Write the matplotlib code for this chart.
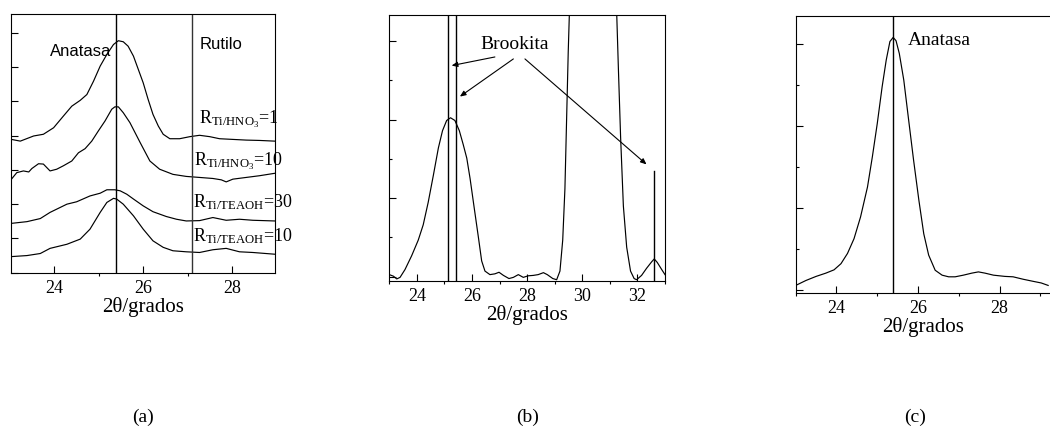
import matplotlib
matplotlib.use("Agg")
import matplotlib.pyplot as plt
from matplotlib.ticker import MultipleLocator, NullFormatter

plt.rcParams['font.family'] = ['Liberation Serif', 'DejaVu Serif']
plt.rcParams['mathtext.fontset'] = 'custom'
plt.rcParams['mathtext.rm'] = 'Liberation Serif'
plt.rcParams['mathtext.it'] = 'Liberation Serif:italic'
plt.rcParams['mathtext.bf'] = 'Liberation Serif:bold'

# ---------------- (a) four samples, offset patterns ----------------
a_hno3_1_x = [23.03, 23.23, 23.53, 23.75, 23.98, 24.20, 24.39, 24.58, 24.73, 24.88,
              25.03, 25.18, 25.33, 25.44, 25.55, 25.66, 25.78, 25.89, 26.00, 26.11,
              26.22, 26.34, 26.45, 26.60, 26.82, 27.05, 27.27, 27.50, 27.72, 28.02,
              28.32, 28.62, 28.96]
a_hno3_1_y = [3.89, 3.84, 3.99, 4.04, 4.23, 4.57, 4.86, 5.03, 5.20, 5.59,
              6.03, 6.37, 6.66, 6.77, 6.74, 6.61, 6.32, 5.93, 5.54, 5.06,
              4.62, 4.28, 4.04, 3.91, 3.91, 3.97, 4.01, 3.97, 3.91, 3.89,
              3.87, 3.86, 3.84]

a_hno3_10_x = [23.03, 23.15, 23.30, 23.42, 23.49, 23.64, 23.75, 23.90, 24.05, 24.20,
               24.39, 24.54, 24.69, 24.84, 24.99, 25.14, 25.29, 25.36, 25.44, 25.55,
               25.70, 25.93, 26.15, 26.37, 26.67, 26.97, 27.27, 27.57, 27.76, 27.87,
               28.02, 28.32, 28.62, 28.96]
a_hno3_10_y = [2.73, 2.92, 2.97, 2.94, 3.04, 3.18, 3.17, 2.97, 3.02, 3.12,
               3.26, 3.50, 3.62, 3.84, 4.14, 4.43, 4.77, 4.84, 4.84, 4.67,
               4.38, 3.80, 3.26, 3.02, 2.87, 2.81, 2.78, 2.75, 2.71, 2.65,
               2.73, 2.78, 2.83, 2.90]

a_teaoh_30_x = [23.03, 23.38, 23.68, 23.90, 24.28, 24.50, 24.80, 25.03, 25.18, 25.36,
                25.48, 25.63, 25.78, 26.00, 26.22, 26.52, 26.75, 26.97, 27.27, 27.57,
                27.87, 28.17, 28.47, 28.96]
a_teaoh_30_y = [1.44, 1.49, 1.58, 1.76, 2.00, 2.07, 2.24, 2.32, 2.42, 2.42,
                2.39, 2.29, 2.15, 1.95, 1.78, 1.64, 1.56, 1.51, 1.52, 1.61,
                1.53, 1.56, 1.53, 1.51]

a_teaoh_10_x = [23.03, 23.38, 23.68, 23.90, 24.28, 24.58, 24.80, 25.03, 25.18, 25.33,
                25.40, 25.55, 25.78, 26.00, 26.22, 26.45, 26.67, 26.97, 27.27, 27.57,
                27.87, 28.17, 28.47, 28.96]
a_teaoh_10_y = [0.47, 0.50, 0.56, 0.71, 0.83, 0.98, 1.27, 1.76, 2.05, 2.17,
                2.15, 2.00, 1.66, 1.27, 0.93, 0.74, 0.64, 0.61, 0.59, 0.67,
                0.71, 0.61, 0.59, 0.54]

a_labels = [r"R$_{\mathrm{Ti/HNO_3}}$=1", r"R$_{\mathrm{Ti/HNO_3}}$=10",
            r"R$_{\mathrm{Ti/TEAOH}}$=30", r"R$_{\mathrm{Ti/TEAOH}}$=10"]
a_label_x = [27.26, 27.15, 27.13, 27.13]
a_label_y = [4.48, 3.26, 2.05, 1.08]
a_anatase_pos = 25.39
a_rutile_pos = 27.10

# ---------------- (b) sample with brookite ----------------
b_x = [23.00, 23.15, 23.27, 23.39, 23.57, 23.81, 24.05, 24.23, 24.41, 24.60,
       24.78, 24.93, 25.08, 25.22, 25.38, 25.54, 25.68, 25.81, 25.93, 26.07,
       26.23, 26.35, 26.47, 26.65, 26.83, 26.98, 27.14, 27.34, 27.50, 27.68,
       27.86, 28.04, 28.22, 28.40, 28.59, 28.73, 28.93, 29.07, 29.19, 29.29,
       29.37, 29.43, 29.49, 29.53, 29.80, 30.40, 31.00, 31.25, 31.31, 31.39,
       31.49, 31.61, 31.75, 31.88, 31.97, 32.15, 32.33, 32.52, 32.61, 32.72,
       32.88, 33.00]
b_y = [0.05, 0.01, -0.06, -0.02, 0.18, 0.53, 0.93, 1.32, 1.89, 2.59,
       3.28, 3.72, 3.98, 4.05, 3.98, 3.72, 3.37, 3.02, 2.50, 1.80,
       1.01, 0.40, 0.14, 0.05, 0.07, 0.11, 0.03, -0.05, -0.02, 0.05,
       -0.02, 0.02, 0.03, 0.05, 0.10, 0.05, -0.05, -0.08, 0.14, 0.93,
       2.24, 3.98, 5.73, 6.67, 9.50, 12.00, 9.00, 6.67, 5.29, 3.55,
       1.80, 0.75, 0.14, -0.05, -0.08, 0.03, 0.21, 0.38, 0.45, 0.36,
       0.18, 0.05]
b_brookite_full = [25.14, 25.42]
b_brookite_short = 32.60
b_brookite_short_top = 2.70

# ---------------- (c) anatase sample ----------------
c_x = [22.98, 23.25, 23.50, 23.74, 23.94, 24.11, 24.27, 24.43, 24.59, 24.76,
       24.88, 25.00, 25.12, 25.22, 25.31, 25.39, 25.46, 25.54, 25.65, 25.77,
       25.89, 26.02, 26.14, 26.26, 26.42, 26.59, 26.75, 26.91, 27.11, 27.32,
       27.48, 27.64, 27.85, 28.13, 28.33, 28.58, 28.82, 29.02, 29.19]
c_y = [0.11, 0.24, 0.34, 0.42, 0.50, 0.65, 0.90, 1.26, 1.79, 2.52,
       3.26, 4.07, 4.97, 5.62, 6.07, 6.17, 6.09, 5.78, 5.13, 4.15,
       3.18, 2.20, 1.38, 0.86, 0.49, 0.37, 0.33, 0.33, 0.37, 0.42,
       0.45, 0.42, 0.37, 0.34, 0.33, 0.27, 0.22, 0.18, 0.12]
c_anatase_pos = 25.39

W, H = 1050, 432
fig = plt.figure(figsize=(W / 100, H / 100), dpi=100)


def px_axes(left, top, right, bottom):
    return fig.add_axes([left / W, 1 - bottom / H, (right - left) / W, (bottom - top) / H])


LW = 0.85
SERIF = ['Liberation Serif', 'DejaVu Serif']
SANS = ['Liberation Sans', 'DejaVu Sans']


def style(ax, ymajor, yminor):
    for s in ax.spines.values():
        s.set_linewidth(0.8)
    ax.xaxis.set_major_locator(MultipleLocator(2))
    ax.xaxis.set_minor_locator(MultipleLocator(1))
    ax.tick_params(axis='x', which='major', direction='in', length=5, width=0.8,
                   labelsize=13, pad=5, top=False)
    ax.tick_params(axis='x', which='minor', direction='out', length=2, width=0.8, top=False)
    ax.yaxis.set_major_locator(MultipleLocator(ymajor))
    if yminor:
        ax.yaxis.set_minor_locator(MultipleLocator(yminor))
    ax.tick_params(axis='y', which='major', direction='in', length=5, width=0.8,
                   labelleft=False, right=False)
    ax.tick_params(axis='y', which='minor', direction='in', length=2.5, width=0.8,
                   right=False)
    ax.yaxis.set_minor_formatter(NullFormatter())
    ax.set_xlabel("2θ/grados", fontsize=15, labelpad=0, family=SERIF)


# (a)
axa = px_axes(11, 14, 275, 272.7)
for xs, ys in [(a_hno3_1_x, a_hno3_1_y), (a_hno3_10_x, a_hno3_10_y),
               (a_teaoh_30_x, a_teaoh_30_y), (a_teaoh_10_x, a_teaoh_10_y)]:
    axa.plot(xs, ys, color='black', lw=LW)
axa.axvline(a_anatase_pos, color='black', lw=1.0)
axa.axvline(a_rutile_pos, color='#333333', lw=1.0)
axa.set_xlim(23.02, 28.97)
axa.set_ylim(0.0, 7.55)
style(axa, 1, None)
axa.text(24.58, 6.47, "Anatasa", family=SANS, fontsize=12, ha='center', va='center')
axa.text(27.26, 6.66, "Rutilo", family=SANS, fontsize=12, ha='left', va='center')
for lab, lx, ly in zip(a_labels, a_label_x, a_label_y):
    axa.text(lx, ly, lab, fontsize=13, ha='left', va='center')

# (b)
axb = px_axes(389.3, 15, 665, 280.7)
axb.plot(b_x, b_y, color='black', lw=LW)
for pos in b_brookite_full:
    axb.axvline(pos, color='black', lw=1.0)
axb.set_xlim(23.0, 33.0)
axb.set_ylim(-0.105, 6.67)
axb.plot([b_brookite_short, b_brookite_short], [-0.105, b_brookite_short_top],
         color='black', lw=1.0)
style(axb, 2, 1)
axb.text(27.53, 5.92, "Brookita", fontsize=14, ha='center', va='center')
arrow_kw = dict(arrowstyle='-|>,head_length=0.35,head_width=0.15', color='black', lw=0.8,
                shrinkA=0, shrinkB=0)
for tail, head in [((26.83, 5.60), (25.26, 5.38)),
                   ((27.50, 5.55), (25.56, 4.59)),
                   ((27.92, 5.55), (32.33, 2.86))]:
    axb.annotate("", xy=head, xytext=tail, arrowprops=arrow_kw)

# (c)
axc = px_axes(795.7, 15.7, 1051, 293)
axc.plot(c_x, c_y, color='black', lw=LW)
axc.axvline(c_anatase_pos, color='black', lw=1.0)
axc.set_xlim(23.0, 29.26)
axc.set_ylim(-0.065, 6.70)
style(axc, 2, 1)
axc.text(25.74, 6.1, "Anatasa", fontsize=14, ha='left', va='center')

# panel captions
for lab, cx in [("(a)", 143), ("(b)", 528), ("(c)", 915)]:
    fig.text(cx / W, 1 - 417 / H, lab, fontsize=14, ha='center', va='center', family=SERIF)

fig.savefig("out.png", dpi=100)
